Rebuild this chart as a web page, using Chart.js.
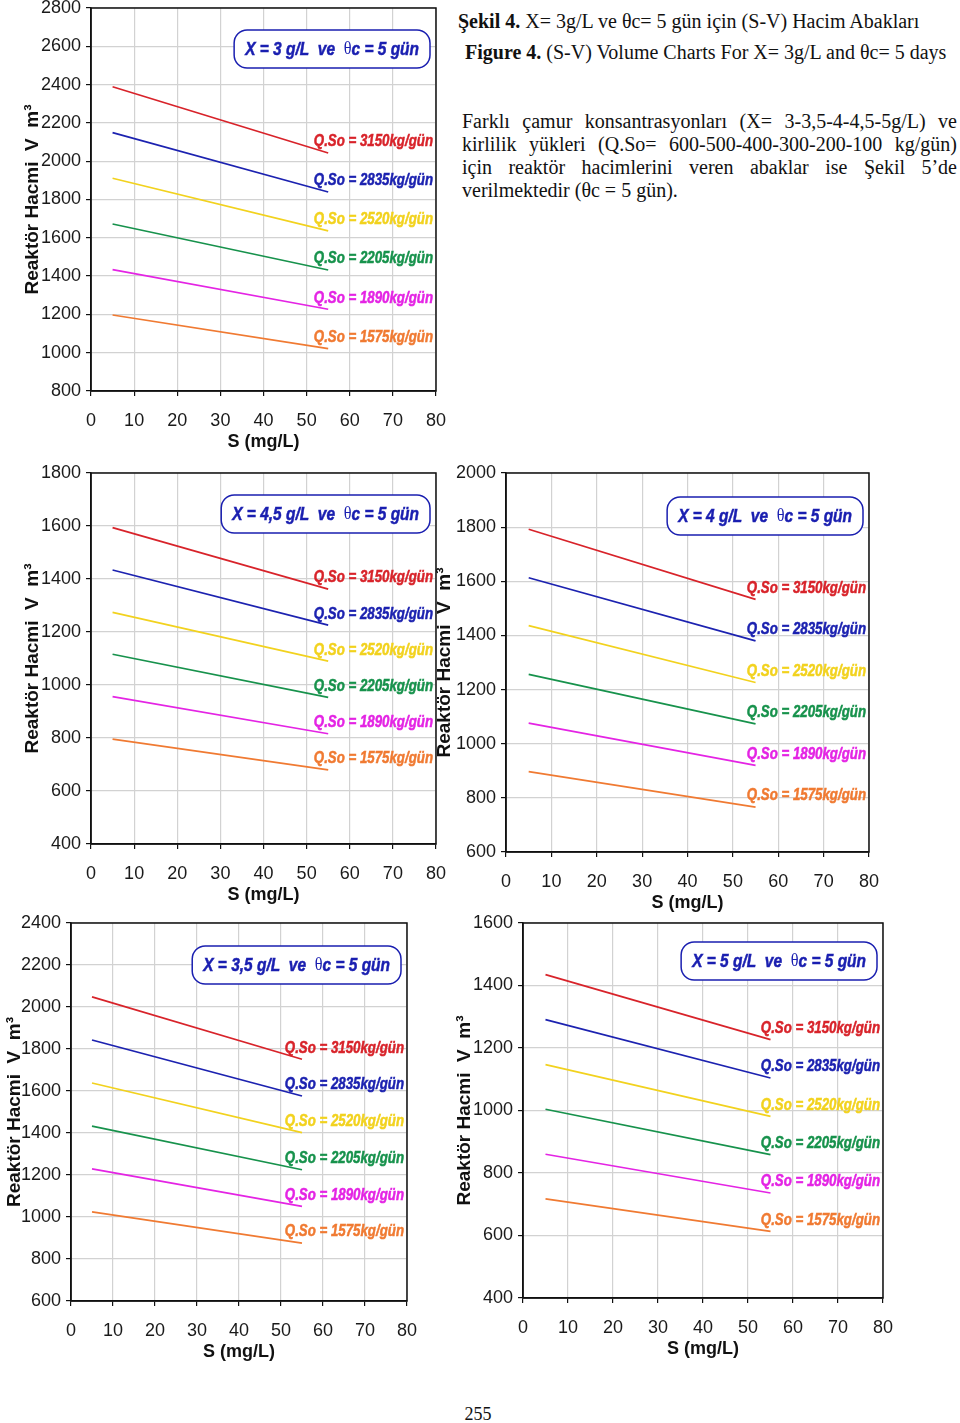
<!DOCTYPE html>
<html>
<head>
<meta charset="utf-8">
<script src="https://cdn.jsdelivr.net/npm/chart.js@4.4.1/dist/chart.umd.min.js"></script>
<style>
  body { margin:0; background:#fff; width:960px; height:1423px; position:relative; overflow:hidden;
         font-family:"Liberation Serif","Times New Roman",serif; color:#111; }
  canvas { position:absolute; }
  .txt { position:absolute; font-size:20px; line-height:22px; white-space:nowrap; }
  .par { position:absolute; left:462px; top:110px; width:495px; font-size:20px; line-height:23px; }
  .par div { text-align:justify; text-align-last:justify; white-space:nowrap; }
  .par div.last { text-align-last:left; }
  .page { position:absolute; left:0; width:956px; top:1404px; text-align:center; font-size:18px; }
</style>
</head>
<body>

<div class="txt" style="left:458px;top:10px"><b>Şekil 4.</b> X= 3g/L ve θc= 5 gün için (S-V) Hacim Abakları</div>
<div class="txt" style="left:465px;top:41px"><b>Figure 4.</b> (S-V) Volume Charts For X= 3g/L and θc= 5 days</div>
<div class="par">
  <div>Farklı çamur konsantrasyonları (X= 3-3,5-4-4,5-5g/L) ve</div>
  <div>kirlilik yükleri (Q.So= 600-500-400-300-200-100 kg/gün)</div>
  <div>için reaktör hacimlerini veren abaklar ise Şekil 5’de</div>
  <div class="last">verilmektedir (θc = 5 gün).</div>
</div>
<div class="page">255</div>

<canvas id="c1" width="450" height="460" style="left:0;top:0"></canvas>
<canvas id="c2" width="450" height="450" style="left:0;top:460px"></canvas>
<canvas id="c3" width="460" height="460" style="left:430px;top:460px"></canvas>
<canvas id="c4" width="430" height="460" style="left:0;top:910px"></canvas>
<canvas id="c5" width="460" height="460" style="left:450px;top:910px"></canvas>

<script>
/* ---------- data ---------- */
const S_VALUES = [5, 55];
const X_TICKS = [0, 10, 20, 30, 40, 50, 60, 70, 80];
const QSO_LABELS = ['Q.So = 3150kg/gün', 'Q.So = 2835kg/gün', 'Q.So = 2520kg/gün',
                    'Q.So = 2205kg/gün', 'Q.So = 1890kg/gün', 'Q.So = 1575kg/gün'];

// reactor volume at S = 5 and S = 55, one entry per Q.So line
const X3_AT5    = [2389, 2149, 1911, 1672, 1434, 1197];
const X3_AT55   = [2043, 1839, 1636, 1432, 1227, 1021];
const X45_AT5   = [1594, 1434, 1274, 1116, 956, 796];
const X45_AT55  = [1362, 1226, 1090, 953, 816, 680];
const X4_AT5    = [1792, 1613, 1436, 1256, 1076, 897];
const X4_AT55   = [1533, 1380, 1226, 1073, 920, 766];
const X35_AT5   = [2048, 1843, 1638, 1433, 1229, 1024];
const X35_AT55  = [1751, 1576, 1402, 1225, 1051, 876];
const X5_AT5    = [1435, 1291, 1147, 1004, 860, 717];
const X5_AT55   = [1227, 1104, 981, 859, 736, 613];

const LINE_COLORS = ['#d8232a', '#1c22b0', '#f2d21e', '#17924c', '#e424e4', '#f07a32'];
const BOX_BLUE = '#1a1fb0';

Chart.defaults.font.family = '"Liberation Sans", Arial, sans-serif';

/* ---------- helpers ---------- */
function drawSquished(ctx, parts, x, y, sx, align, color) {
  ctx.save();
  let total = 0;
  parts.forEach(p => { ctx.font = p.f; p.w = ctx.measureText(p.t).width; total += p.w; });
  ctx.translate(x, y);
  ctx.scale(sx, 1);
  let cx = align === 'right' ? -total : (align === 'center' ? -total / 2 : 0);
  ctx.fillStyle = color;
  ctx.strokeStyle = color;
  ctx.lineWidth = 0.5;
  ctx.textBaseline = 'middle';
  ctx.textAlign = 'left';
  parts.forEach(p => {
    ctx.font = p.f;
    ctx.fillText(p.t, cx, p.dy || 0);
    if (p.heavy) ctx.strokeText(p.t, cx, p.dy || 0);
    cx += p.w;
  });
  ctx.restore();
  return total * sx;
}

const decor = {
  id: 'decor',
  afterDatasetsDraw(chart, args, opts) {
    const ctx = chart.ctx, a = chart.chartArea, yS = chart.scales.y;
    ctx.save();
    // plot frame
    ctx.strokeStyle = '#111';
    ctx.lineWidth = 1.5;
    ctx.strokeRect(a.left, a.top, a.right - a.left, a.bottom - a.top);

    // line labels
    chart.data.datasets.forEach(ds => {
      const last = ds.data[ds.data.length - 1];
      const py = yS.getPixelForValue(last.y) - 11;
      drawSquished(ctx, [{t: ds.label, f: 'italic bold 16px "Liberation Sans"', heavy: true}],
                   a.right - 3, py, 0.83, 'right', ds.borderColor);
    });

    // title box
    const bi = 'italic bold 18px "Liberation Sans"';
    const parts = [{t: 'X = ' + opts.x + ' g/L  ve  ', f: bi, heavy: true},
                   {t: 'θ', f: '19px "Liberation Serif"', dy: -1},
                   {t: 'c = 5 gün', f: bi, heavy: true}];
    let tw = 0;
    parts.forEach(p => { ctx.font = p.f; tw += ctx.measureText(p.t).width; });
    const sx = 0.86, bw = tw * sx + 22, bh = 38;
    const bx = a.right - 6 - bw, by = a.top + opts.boxTop;
    ctx.beginPath();
    ctx.roundRect(bx, by, bw, bh, 13);
    ctx.fillStyle = '#fff';
    ctx.fill();
    ctx.strokeStyle = BOX_BLUE;
    ctx.lineWidth = 1.5;
    ctx.stroke();
    drawSquished(ctx, parts, bx + bw / 2, by + bh / 2 + 1, sx, 'center', BOX_BLUE);
    ctx.restore();
  }
};

function makeChart(id, g) {
  const datasets = QSO_LABELS.map((lab, k) => ({
    label: lab,
    data: S_VALUES.map((s, i) => ({x: s, y: (i === 0 ? g.at5 : g.at55)[k]})),
    borderColor: LINE_COLORS[k],
    borderWidth: 1.7,
    pointRadius: 0,
    tension: 0,
    fill: false
  }));
  const el = document.getElementById(id);
  const W = el.width, H = el.height;
  const xH = H - g.bottom;
  return new Chart(el, {
    type: 'line',
    data: {datasets},
    plugins: [decor],
    options: {
      responsive: false,
      animation: false,
      layout: {padding: {top: g.top, right: W - g.right, left: 0, bottom: 0}},
      plugins: {legend: {display: false}, tooltip: {enabled: false}, decor: {x: g.x, boxTop: g.boxTop}},
      scales: {
        x: {
          type: 'linear', min: 0, max: 80,
          afterBuildTicks: s => { s.ticks = X_TICKS.map(v => ({value: v})); },
          afterFit: s => { s.height = xH; s.paddingLeft = 0; s.paddingRight = 0; },
          grid: {color: '#d2d2d2', lineWidth: 1.2, tickColor: '#111', tickLength: 5},
          border: {color: '#111', width: 1.5},
          ticks: {font: {size: 18}, color: '#1a1a1a', padding: 14, autoSkip: false, maxRotation: 0,
                  callback: v => String(v)},
          title: {display: true, text: 'S (mg/L)', font: {size: 18, weight: 'bold'}, color: '#111',
                  padding: {top: 0, bottom: xH - 62.3}}
        },
        y: {
          min: g.ymin, max: g.ymax,
          ticks: {stepSize: 200, font: {size: 18}, color: '#1a1a1a', padding: 5, autoSkip: false,
                  callback: v => String(v)},
          afterFit: s => { s.width = g.left; s.paddingTop = 0; s.paddingBottom = 0; },
          grid: {color: '#d2d2d2', lineWidth: 1.2, tickColor: '#111', tickLength: 5},
          border: {color: '#111', width: 1.5},
          title: {display: true, text: 'Reaktör Hacmi  V  m³', font: {size: 19, weight: 'bold'}, color: '#111',
                  padding: {top: g.left - g.tgap - 11.4, bottom: 0}}
        }
      }
    }
  });
}

makeChart('c1', {x: '3',   at5: X3_AT5,  at55: X3_AT55,  ymin: 800, ymax: 2800, left: 91, top: 8,  right: 436, bottom: 391, tgap: 58, boxTop: 22});
makeChart('c2', {x: '4,5', at5: X45_AT5, at55: X45_AT55, ymin: 400, ymax: 1800, left: 91, top: 13, right: 436, bottom: 384, tgap: 58, boxTop: 22});
makeChart('c3', {x: '4',   at5: X4_AT5,  at55: X4_AT55,  ymin: 600, ymax: 2000, left: 76, top: 13, right: 439, bottom: 392, tgap: 61, boxTop: 24});
makeChart('c4', {x: '3,5', at5: X35_AT5, at55: X35_AT55, ymin: 600, ymax: 2400, left: 71, top: 13, right: 407, bottom: 391, tgap: 56, boxTop: 23});
makeChart('c5', {x: '5',   at5: X5_AT5,  at55: X5_AT55,  ymin: 400, ymax: 1600, left: 73, top: 13, right: 433, bottom: 388, tgap: 58, boxTop: 19});
</script>
</body>
</html>
